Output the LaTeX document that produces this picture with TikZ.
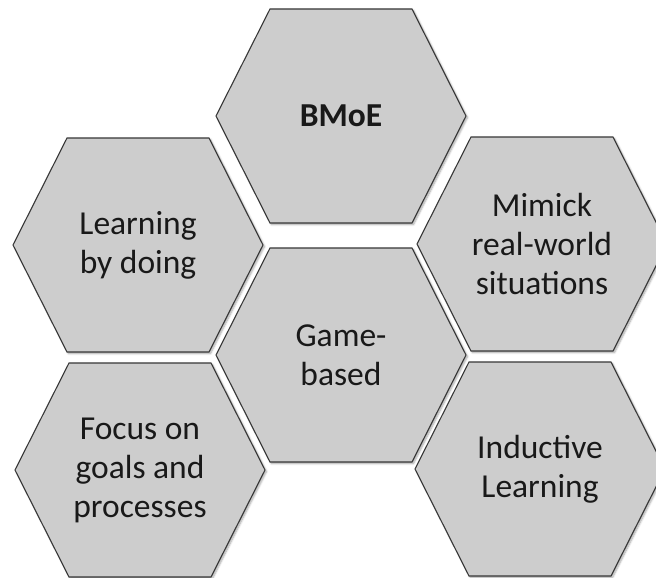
\documentclass[tikz,border=0pt]{standalone}
\usepackage{fontspec}
\setmainfont{Carlito}
\usetikzlibrary{shadows.blur}
\definecolor{hexfill}{RGB}{205,205,205}
\definecolor{hexline}{RGB}{55,55,55}
\tikzset{
  hexshape/.style={fill=hexfill, draw=hexline, line width=1.1pt, line join=miter,
    blur shadow={shadow xshift=1.5pt, shadow yshift=-1.5pt, shadow blur steps=6, shadow opacity=35}},
  hextext/.style={align=center, font=\fontsize{33.5}{39}\selectfont, text=black!90, inner sep=0pt}
}
\newcommand{\hexcell}[4]{%
  \path[hexshape] (#1-125,#2) -- (#1-71,#2-107) -- (#1+71,#2-107) -- (#1+125,#2) -- (#1+71,#2+107) -- (#1-71,#2+107) -- cycle;
  \node[hextext] (#3) at (#1,#2) {#4};
}
\begin{document}
\begin{tikzpicture}[x=1pt,y=-1pt]
\useasboundingbox (0,0) rectangle (656,578);
\hexcell{341}{116}{bmoe}{\textbf{BMoE}}
\hexcell{138}{245}{learn}{Learning\\by doing}
\hexcell{542}{244}{mimick}{Mimick\\real-world\\situations}
\hexcell{341}{355}{game}{Game-\\based}
\hexcell{140}{470}{focus}{Focus on\\goals and\\processes}
\hexcell{540}{469}{induct}{Inductive\\Learning}
\end{tikzpicture}
\end{document}
